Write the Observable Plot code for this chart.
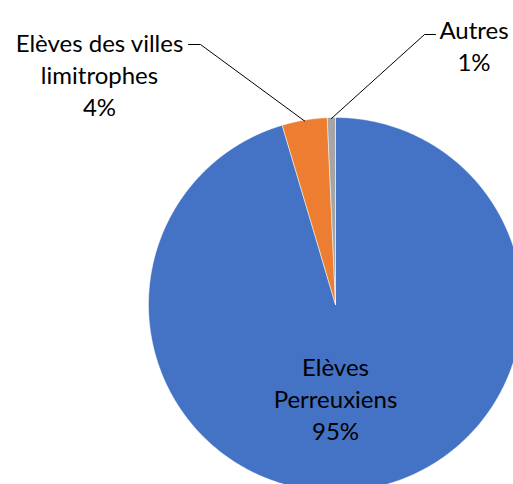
<!DOCTYPE html>
<html><head><meta charset="utf-8">
<script src="https://cdn.jsdelivr.net/npm/d3@7"></script>
<script src="https://cdn.jsdelivr.net/npm/@observablehq/plot@0.6"></script>
<style>body{margin:0;background:#fff}svg{display:block}</style>
</head><body><div id="chart"></div>
<script>
// ---- data ----
const categories = ["Elèves Perreuxiens", "Elèves des villes limitrophes", "Autres"];
const values = [95.4, 3.9, 0.7];
const labelLines = [["Elèves", "Perreuxiens"], ["Elèves des villes", "limitrophes"], ["Autres"]];
const colors = ["#4472C4", "#ED7D31", "#A5A5A5"];

// ---- layout ----
const W = 513, H = 484;
const cx = 335, cy = 304, R = 187;
const FONT = "Lato, 'Open Sans', sans-serif";
const FS = 24;
// label anchor (block centre) and elbow of leader line, per slice
const labelPos = [
  {x: 335, y: 397, elbow: null},
  {x: 99, y: 73, elbow: [[188, 44], [200, 44]]},
  {x: 473.5, y: 44, elbow: [[435, 34], [424, 34]]}
];

const data = categories.map((c, i) => ({cat: c, value: values[i], i}));
const total = d3.sum(values);
const arcs = d3.pie().sort(null).value(d => d.value)(data);

const polar = (a, r) => [cx + r * Math.sin(a), cy - r * Math.cos(a)];

// slice polygons
const pts = [];
for (const a of arcs) {
  pts.push({cat: a.data.cat, x: cx, y: cy});
  const n = Math.max(2, Math.ceil((a.endAngle - a.startAngle) / (Math.PI / 360)));
  for (let k = 0; k <= n; k++) {
    const t = a.startAngle + (a.endAngle - a.startAngle) * k / n;
    const [x, y] = polar(t, R);
    pts.push({cat: a.data.cat, x, y});
  }
  pts.push({cat: a.data.cat, x: cx, y: cy});
}

// leader lines
const leaders = [];
arcs.forEach((a, i) => {
  const lp = labelPos[i];
  if (!lp.elbow) return;
  const mid = (a.startAngle + a.endAngle) / 2;
  const [x0, y0] = polar(mid, R - 1);
  leaders.push({cat: a.data.cat, x: x0, y: y0});
  const e = lp.elbow;
  leaders.push({cat: a.data.cat, x: e[1][0], y: e[1][1]});
  leaders.push({cat: a.data.cat, x: e[0][0], y: e[0][1]});
});

const labels = arcs.map((a, i) => ({
  cat: a.data.cat,
  text: [...labelLines[i], Math.round(a.data.value / total * 100) + "%"].join("\n"),
  x: labelPos[i].x, y: labelPos[i].y
}));

const chart = Plot.plot({
  width: W, height: H,
  margin: 0,
  x: {domain: [0, W], range: [0, W], axis: null},
  y: {domain: [0, H], range: [0, H], axis: null},
  color: {domain: categories, range: colors},
  style: {fontFamily: FONT, background: "#fff"},
  marks: [
    Plot.line(pts, {x: "x", y: "y", z: "cat", fill: "cat", stroke: "#fff", strokeWidth: 0.5, curve: "linear"}),
    Plot.line(leaders, {x: "x", y: "y", z: "cat", stroke: "#000", strokeWidth: 1}),
    Plot.text(labels, {x: "x", y: "y", text: "text", fontSize: FS, lineHeight: 32 / FS, fill: "#000", textAnchor: "middle"})
  ]
});
document.getElementById("chart").appendChild(chart);
</script>
</body></html>
